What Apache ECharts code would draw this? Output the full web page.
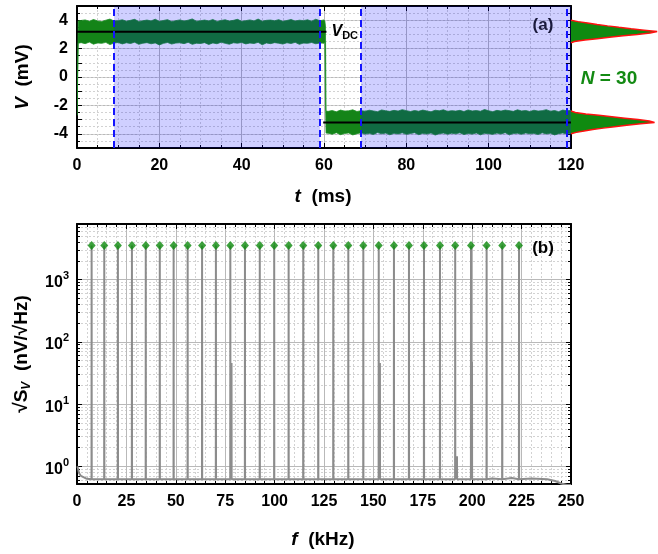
<!DOCTYPE html>
<html>
<head>
<meta charset="utf-8">
<script src="https://cdn.jsdelivr.net/npm/echarts@6/dist/echarts.min.js"></script>
<style>
  html, body { margin: 0; padding: 0; background: #fff; }
  #chart { width: 658px; height: 554px; }
</style>
</head>
<body>
<div id="chart"></div>
<script>
// ---------- (a) voltage trace, envelope of the noise band (mV) ----------
// t = 1 ... 60 ms, high state
const highStateTop = [
  3.98, 4.02, 3.92, 4.05, 3.95, 3.90, 4.00, 4.08, 3.94, 3.97,
  4.03, 3.93, 3.99, 4.06, 3.91, 3.96, 4.01, 3.95, 4.07, 3.92,
  3.98, 4.04, 3.90, 3.97, 4.02, 3.94, 4.00, 4.09, 3.93, 3.96,
  4.01, 3.95, 4.05, 3.91, 3.98, 4.03, 3.94, 3.99, 4.06, 3.92,
  3.97, 4.02, 3.95, 4.08, 3.93, 3.99, 4.01, 3.96, 4.04, 3.92,
  3.98, 4.05, 3.94, 4.00, 3.97, 4.03, 3.93, 4.07, 3.96, 4.02
];
const highStateBottom = [
  2.42, 2.35, 2.46, 2.31, 2.40, 2.37, 2.44, 2.28, 2.39, 2.43,
  2.33, 2.41, 2.36, 2.45, 2.30, 2.38, 2.42, 2.34, 2.40, 2.26,
  2.37, 2.43, 2.32, 2.39, 2.41, 2.35, 2.44, 2.30, 2.38, 2.36,
  2.42, 2.29, 2.40, 2.34, 2.45, 2.37, 2.31, 2.41, 2.38, 2.43,
  2.33, 2.39, 2.36, 2.44, 2.27, 2.40, 2.35, 2.42, 2.38, 2.32,
  2.41, 2.36, 2.44, 2.30, 2.39, 2.37, 2.43, 2.34, 2.40, 2.38
];
// t = 61 ... 120 ms, low state
const lowStateTop = [
  -2.42, -2.36, -2.45, -2.33, -2.40, -2.38, -2.31, -2.43, -2.37, -2.41,
  -2.34, -2.39, -2.44, -2.32, -2.38, -2.42, -2.35, -2.40, -2.30, -2.37,
  -2.43, -2.36, -2.41, -2.33, -2.39, -2.45, -2.34, -2.38, -2.31, -2.42,
  -2.37, -2.40, -2.35, -2.43, -2.32, -2.39, -2.36, -2.41, -2.29, -2.38,
  -2.44, -2.35, -2.40, -2.33, -2.37, -2.42, -2.31, -2.39, -2.36, -2.43,
  -2.34, -2.40, -2.37, -2.30, -2.41, -2.36, -2.44, -2.33, -2.38, -2.35
];
const lowStateBottom = [
  -3.96, -4.03, -3.92, -4.06, -3.98, -3.94, -4.08, -3.99, -3.93, -4.02,
  -3.97, -4.05, -3.91, -4.00, -3.95, -4.07, -3.96, -4.01, -3.93, -4.04,
  -3.98, -3.92, -4.06, -3.97, -4.02, -3.94, -4.09, -3.99, -3.95, -4.03,
  -3.96, -4.00, -3.93, -4.05, -3.98, -4.02, -3.94, -4.07, -3.97, -3.99,
  -4.04, -3.95, -4.01, -3.92, -4.06, -3.98, -3.96, -4.03, -3.94, -4.00,
  -3.97, -4.05, -3.93, -4.01, -3.96, -4.08, -3.99, -3.94, -4.02, -3.97
];
// switching edges: [t, top, bottom]
const startEdge = [[0, -2.45, -2.7], [0.3, 3.95, 2.38]];
const switchEdge = [[60.2, 3.95, 2.45], [60.35, 3.6, -1.5], [60.5, -2.4, -3.95]];

// mean (DC) levels and where they are drawn
const vdcHigh = 3.18, vdcHighSpan = [0, 60.6];
const vdcLow = -3.2, vdcLowSpan = [59.8, 120];

// analysis windows (ms)
const windows = [[9, 59], [69, 120]];
const windowMarks = [9, 59, 69, 119];

// amplitude histograms (bin centre mV, relative count)
const histHighV = [2.4, 2.5, 2.6, 2.7, 2.8, 2.9, 3.0, 3.1, 3.2, 3.3, 3.4, 3.5, 3.6, 3.7, 3.8, 3.9, 4.0];
const histHighN = [0, 0.04, 0.16, 0.30, 0.44, 0.60, 0.76, 0.91, 0.99, 0.84, 0.69, 0.55, 0.42, 0.30, 0.19, 0.08, 0];
const histLowV = [-4.0, -3.9, -3.8, -3.7, -3.6, -3.5, -3.4, -3.3, -3.2, -3.1, -3.0, -2.9, -2.8, -2.7, -2.6, -2.5, -2.4];
const histLowN = [0, 0.06, 0.15, 0.25, 0.37, 0.50, 0.64, 0.80, 0.96, 0.90, 0.77, 0.62, 0.47, 0.32, 0.17, 0.05, 0];

// ---------- (b) amplitude spectral density (nV/√Hz) ----------
const spikeFreq = [7.4, 13.8, 20.7, 27.8, 34.8, 41.9, 48.9, 56.0, 63.3, 70.3,
  77.6, 85.0, 92.5, 99.8, 107.1, 114.5, 122.1, 129.7, 137.3, 144.9,
  152.7, 160.4, 168.0, 175.6, 183.7, 191.4, 199.4, 207.3, 215.2, 223.7];
const spikeAmp = [3550, 3550, 3550, 3550, 3550, 3550, 3550, 3550, 3550, 3550,
  3550, 3550, 3550, 3550, 3550, 3550, 3550, 3550, 3550, 3550,
  3550, 3550, 3550, 3550, 3550, 3550, 3550, 3550, 3550, 3550];
const spikeBase = 0.62;
const sidePeakFreq = [78.2, 153.3, 192.3, 199.9];
const sidePeakAmp = [46, 46, 1.45, 48];
const floorFreq = [0.2, 0.6, 1, 2, 3, 5, 8, 15, 30, 60, 100, 150, 200, 210, 220, 230, 238, 242, 245, 248, 250];
const floorAmp = [1.0, 0.9, 0.78, 0.7, 0.66, 0.63, 0.62, 0.62, 0.62, 0.62, 0.62, 0.62, 0.62, 0.64, 0.65, 0.64, 0.62, 0.58, 0.53, 0.5, 0.5];

// ---------- build series tables ----------
const band = [];
startEdge.forEach(p => band.push(p));
for (let i = 0; i < highStateTop.length; i++) band.push([i + 1, highStateTop[i], highStateBottom[i]]);
switchEdge.forEach(p => band.push(p));
for (let i = 0; i < lowStateTop.length; i++) band.push([i + 61, lowStateTop[i], lowStateBottom[i]]);

const vBins = [];
for (let k = -50; k <= 50; k++) vBins.push((k / 10).toFixed(1));
const histData = vBins.map(() => null);
function placeHist(vs, ns) {
  vs.forEach((v, i) => { histData[vBins.indexOf(v.toFixed(1))] = ns[i]; });
}
placeHist(histHighV, histHighN);
placeHist(histLowV, histLowN);

const spectrum = floorFreq.map((f, i) => [f, floorAmp[i]]);
spikeFreq.forEach((f, i) => {
  spectrum.push([f - 0.05, spikeBase], [f, spikeAmp[i]], [f + 0.05, spikeBase]);
});
sidePeakFreq.forEach((f, i) => {
  spectrum.push([f - 0.05, spikeBase], [f, sidePeakAmp[i]], [f + 0.05, spikeBase]);
});
spectrum.sort((a, b) => a[0] - b[0]);
const diamonds = spikeFreq.map((f, i) => [f, spikeAmp[i]]);

// ---------- styling helpers ----------
const FONT = 'Liberation Sans, Arial, sans-serif';
const frameLine = { show: true, onZero: false, lineStyle: { color: '#000', width: 2 } };
const tickIn = { show: true, inside: true, length: 5, lineStyle: { color: '#000', width: 1 } };
const minorIn = (n) => ({ show: true, splitNumber: n, length: 3, lineStyle: { color: '#000', width: 1 } });
const tickLabel = { color: '#000', fontFamily: FONT, fontWeight: 'bold', fontSize: 16 };
const gridSolid = { show: true, lineStyle: { color: '#b9b9b9', width: 1 } };
const gridDotted = { show: true, lineStyle: { color: '#d2d2d2', width: 1, type: [2, 2] } };

// noise band drawn as one filled outline: top envelope forward, bottom envelope back
function renderBand(params, api) {
  if (params.dataIndex !== 0) return null;
  const pts = band.map(p => api.coord([p[0], p[1]]));
  for (let i = band.length - 1; i >= 0; i--) pts.push(api.coord([band[i][0], band[i][2]]));
  return {
    type: 'polygon',
    shape: { points: pts },
    style: { fill: '#148418', stroke: '#1d8f25', lineWidth: 0.8 }
  };
}

const option = {
  animation: false,
  backgroundColor: '#fff',
  grid: [
    { left: 77, top: 6, width: 494, height: 142 },
    { left: 571, top: 6, width: 87, height: 142 },
    { left: 77, top: 224, width: 494, height: 260 }
  ],
  xAxis: [
    { gridIndex: 0, type: 'value', min: 0, max: 120, interval: 20, position: 'bottom',
      axisLine: frameLine, axisTick: tickIn, minorTick: minorIn(4),
      axisLabel: Object.assign({ margin: 10 }, tickLabel),
      splitLine: gridSolid, minorSplitLine: gridDotted },
    { gridIndex: 0, type: 'value', min: 0, max: 120, interval: 20, position: 'top',
      axisLine: frameLine, axisTick: tickIn, minorTick: minorIn(4),
      axisLabel: { show: false }, splitLine: { show: false } },
    { gridIndex: 1, type: 'value', min: 0, max: 1, show: false },
    { gridIndex: 2, type: 'value', min: 0, max: 250, interval: 25, position: 'bottom',
      axisLine: frameLine, axisTick: tickIn, minorTick: minorIn(5),
      axisLabel: Object.assign({ margin: 10 }, tickLabel),
      splitLine: gridSolid, minorSplitLine: gridDotted },
    { gridIndex: 2, type: 'value', min: 0, max: 250, interval: 25, position: 'top',
      axisLine: frameLine, axisTick: tickIn, minorTick: minorIn(5),
      axisLabel: { show: false }, splitLine: { show: false } }
  ],
  yAxis: [
    { gridIndex: 0, type: 'value', min: -5, max: 5, interval: 1, position: 'left',
      axisLine: frameLine, axisTick: tickIn, minorTick: minorIn(2),
      axisLabel: Object.assign({ margin: 9,
        formatter: v => (Math.round(v) % 2 === 0 ? String(v) : '') }, tickLabel),
      splitLine: { show: true, lineStyle: { color: ['rgba(0,0,0,0)', '#b9b9b9'], width: 1 } } },
    { gridIndex: 0, type: 'value', min: -5, max: 5, interval: 1, position: 'right',
      axisLine: frameLine, axisTick: tickIn, minorTick: minorIn(2),
      axisLabel: { show: false }, splitLine: { show: false } },
    { gridIndex: 0, type: 'value', min: -5, max: 5, interval: 0.5, position: 'left',
      axisLine: { show: false }, axisTick: { show: false }, axisLabel: { show: false },
      splitLine: gridDotted, z: 0 },
    { gridIndex: 1, type: 'category', data: vBins, boundaryGap: false, show: false },
    { gridIndex: 2, type: 'log', logBase: 10, min: 0.52, max: 7850, position: 'left',
      axisLine: frameLine, axisTick: tickIn, minorTick: minorIn(9),
      axisLabel: { margin: 8, showMinLabel: false, showMaxLabel: false,
        formatter: v => '{b|10}{s|' + Math.round(Math.log10(v)) + '}',
        rich: {
          b: { color: '#000', fontFamily: FONT, fontWeight: 'bold', fontSize: 16, lineHeight: 18, padding: [6, 0, 0, 0] },
          s: { color: '#000', fontFamily: FONT, fontWeight: 'bold', fontSize: 11, lineHeight: 11, verticalAlign: 'top' }
        } },
      splitLine: gridSolid, minorSplitLine: gridDotted },
    { gridIndex: 2, type: 'log', logBase: 10, min: 0.52, max: 7850, position: 'right',
      axisLine: frameLine, axisTick: tickIn, minorTick: minorIn(9),
      axisLabel: { show: false }, splitLine: { show: false } }
  ],
  series: [
    // noise band of the trace
    { name: 'trace', type: 'custom', xAxisIndex: 0, yAxisIndex: 0, data: band,
      encode: { x: 0, y: [1, 2] }, renderItem: renderBand, clip: true, z: 2, silent: true },
    // analysis windows
    { name: 'windows', type: 'line', xAxisIndex: 0, yAxisIndex: 0, data: [], silent: true,
      markArea: { silent: true, z: 3, itemStyle: { color: 'rgba(0,0,255,0.19)' },
        data: windows.map(w => [{ xAxis: w[0] }, { xAxis: w[1] }]) },
      markLine: { silent: true, z: 5, symbol: 'none', label: { show: false },
        lineStyle: { color: '#1414ff', width: 2, type: [7, 4] },
        data: windowMarks.map(t => ({ xAxis: t })) } },
    // DC levels
    { name: 'VDC high', type: 'line', xAxisIndex: 0, yAxisIndex: 0, z: 4, symbol: 'none', silent: true,
      lineStyle: { color: '#000', width: 2 },
      data: [[vdcHighSpan[0], vdcHigh], [vdcHighSpan[1], vdcHigh]],
      endLabel: { show: true, distance: 5, formatter: '{v|V}{d|DC}',
        rich: {
          v: { color: '#000', fontFamily: FONT, fontWeight: 'bold', fontStyle: 'italic', fontSize: 16, lineHeight: 18 },
          d: { color: '#000', fontFamily: FONT, fontWeight: 'bold', fontSize: 11, lineHeight: 11, padding: [8, 0, 0, 0] }
        } } },
    { name: 'VDC low', type: 'line', xAxisIndex: 0, yAxisIndex: 0, z: 4, symbol: 'none', silent: true,
      lineStyle: { color: '#000', width: 2 },
      data: [[vdcLowSpan[0], vdcLow], [vdcLowSpan[1], vdcLow]] },
    // histograms
    { name: 'histogram', type: 'line', xAxisIndex: 2, yAxisIndex: 3, data: histData,
      symbol: 'none', connectNulls: false, silent: true,
      lineStyle: { color: '#ff1010', width: 1.5 },
      areaStyle: { color: '#0f8a10', opacity: 1 } },
    // spectrum
    { name: 'spectrum', type: 'line', xAxisIndex: 3, yAxisIndex: 4, data: spectrum,
      symbol: 'none', silent: true, lineStyle: { color: '#8c8c8c', width: 2 } },
    { name: 'peaks', type: 'scatter', xAxisIndex: 3, yAxisIndex: 4, data: diamonds,
      symbol: 'diamond', symbolSize: [8, 9], itemStyle: { color: '#0c8a0c' }, silent: true, z: 4 }
  ],
  graphic: [
    { type: 'text', x: 23, y: 77, rotation: Math.PI / 2, silent: true,
      style: { text: '{i|V}{n|  (mV)}', align: 'center', verticalAlign: 'middle',
        rich: { i: { fontFamily: FONT, fontWeight: 'bold', fontStyle: 'italic', fontSize: 19, fill: '#000' },
                n: { fontFamily: FONT, fontWeight: 'bold', fontSize: 19, fill: '#000' } } } },
    { type: 'text', x: 323, y: 197, silent: true,
      style: { text: '{i|t}{n|  (ms)}', align: 'center', verticalAlign: 'middle',
        rich: { i: { fontFamily: FONT, fontWeight: 'bold', fontStyle: 'italic', fontSize: 19, fill: '#000' },
                n: { fontFamily: FONT, fontWeight: 'bold', fontSize: 19, fill: '#000' } } } },
    { type: 'text', x: 22, y: 354, rotation: Math.PI / 2, silent: true,
      style: { text: '{n|√S}{s|V}{n|  (nV/√Hz)}', align: 'center', verticalAlign: 'middle',
        rich: { n: { fontFamily: FONT, fontWeight: 'bold', fontSize: 19, lineHeight: 22, fill: '#000' },
                s: { fontFamily: FONT, fontWeight: 'bold', fontStyle: 'italic', fontSize: 12, lineHeight: 12, fill: '#000', padding: [10, 0, 0, 0] } } } },
    { type: 'text', x: 323, y: 540, silent: true,
      style: { text: '{i|f}{n|  (kHz)}', align: 'center', verticalAlign: 'middle',
        rich: { i: { fontFamily: FONT, fontWeight: 'bold', fontStyle: 'italic', fontSize: 19, fill: '#000' },
                n: { fontFamily: FONT, fontWeight: 'bold', fontSize: 19, fill: '#000' } } } },
    { type: 'text', x: 543, y: 25, silent: true, z: 10,
      style: { text: '(a)', align: 'center', verticalAlign: 'middle',
        font: 'bold 17px ' + FONT, fill: '#1a1a3c' } },
    { type: 'text', x: 543, y: 248, silent: true, z: 10,
      style: { text: '(b)', align: 'center', verticalAlign: 'middle',
        font: 'bold 17px ' + FONT, fill: '#000' } },
    { type: 'text', x: 609, y: 79, silent: true,
      style: { text: '{i|N}{n| = 30}', align: 'center', verticalAlign: 'middle',
        rich: { i: { fontFamily: FONT, fontWeight: 'bold', fontStyle: 'italic', fontSize: 19, fill: '#138a13' },
                n: { fontFamily: FONT, fontWeight: 'bold', fontSize: 19, fill: '#138a13' } } } }
  ]
};

const chart = echarts.init(document.getElementById('chart'), null, { renderer: 'canvas' });
chart.setOption(option);
</script>
</body>
</html>
